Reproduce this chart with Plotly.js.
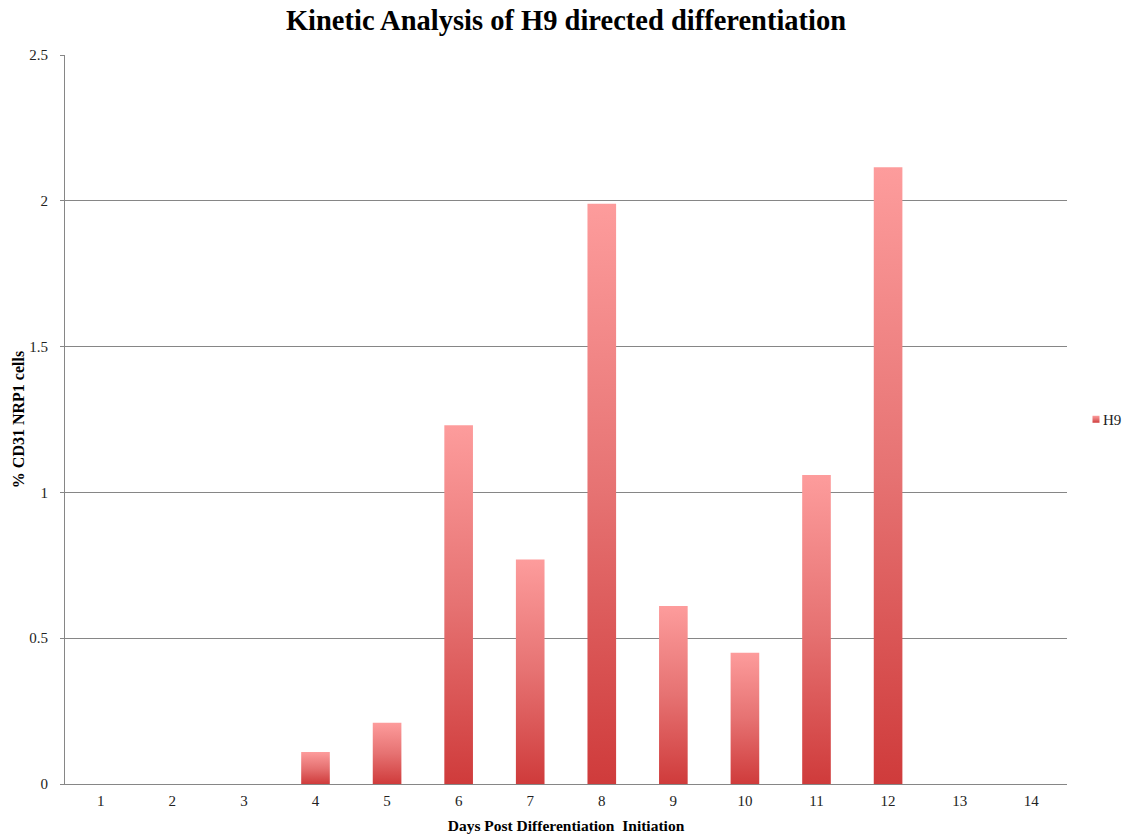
<!DOCTYPE html>
<html>
<head>
<meta charset="utf-8">
<script src="https://cdn.plot.ly/plotly-3.0.1.min.js"></script>
<style>html,body{margin:0;padding:0;background:#fff;}#chart{width:1132px;height:835px;}</style>
</head>
<body>
<div id="chart"></div>
<script>
var days = ['1','2','3','4','5','6','7','8','9','10','11','12','13','14'];
var h9Values = [0, 0, 0, 0.11, 0.21, 1.23, 0.77, 1.99, 0.61, 0.45, 1.06, 2.115, 0, 0];
var seriesName = 'H9';
var yTicks = [0, 0.5, 1, 1.5, 2, 2.5];
var yTickLabels = ['0', '0.5', '1', '1.5', '2', '2.5'];

var serif = '"Liberation Serif", "Times New Roman", serif';

var trace = {
  type: 'bar',
  x: days,
  y: h9Values,
  name: seriesName,
  marker: {color: '#e06a6a', line: {width: 0}},
  showlegend: true,
  hoverinfo: 'x+y'
};

var layout = {
  width: 1132,
  height: 835,
  margin: {l: 65, r: 65, t: 55, b: 51, autoexpand: false},
  paper_bgcolor: '#ffffff',
  plot_bgcolor: '#ffffff',
  bargap: 0.6,
  title: {
    text: '<b>Kinetic Analysis of H9 directed differentiation</b>',
    font: {family: serif, size: 28.5, color: '#000000'},
    x: 0.5, xanchor: 'center', y: 0.976, yanchor: 'middle'
  },
  xaxis: {
    type: 'category',
    showgrid: false,
    showline: true,
    linecolor: '#868686',
    linewidth: 1,
    ticks: '',
    ticklabelstandoff: 3,
    tickfont: {family: serif, size: 15, color: '#222222'},
    title: {text: '<b>Days Post Differentiation  Initiation</b>', font: {family: serif, size: 15.5, color: '#000000'}, standoff: 12}
  },
  yaxis: {
    range: [0, 2.5],
    tickvals: yTicks,
    ticktext: yTickLabels,
    showgrid: true,
    gridcolor: '#868686',
    gridwidth: 1,
    showline: true,
    linecolor: '#868686',
    linewidth: 1,
    ticks: 'outside',
    ticklen: 4,
    tickcolor: '#868686',
    zeroline: false,
    ticklabelstandoff: 9,
    tickfont: {family: serif, size: 15, color: '#222222'},
    title: {text: '<b>% CD31 NRP1 cells</b>', font: {family: serif, size: 16, color: '#000000'}, standoff: 0}
  },
  showlegend: true,
  legend: {
    x: 0.996, xanchor: 'left', y: 0.5, yanchor: 'middle',
    font: {family: serif, size: 15, color: '#222222'},
    bgcolor: 'rgba(0,0,0,0)',
    itemwidth: 30
  }
};

Plotly.newPlot('chart', [trace], layout, {displayModeBar: false, staticPlot: true}).then(function(gd){
  var svgNS = 'http://www.w3.org/2000/svg';
  var svg = gd.querySelector('svg.main-svg');
  var defs = svg.querySelector('defs');
  if (!defs) { defs = document.createElementNS(svgNS, 'defs'); svg.insertBefore(defs, svg.firstChild); }
  var grad = document.createElementNS(svgNS, 'linearGradient');
  grad.setAttribute('id', 'barGrad');
  grad.setAttribute('x1', '0'); grad.setAttribute('y1', '0');
  grad.setAttribute('x2', '0'); grad.setAttribute('y2', '1');
  var stops = [['0%', '#fd9c9c'], ['50%', '#e67272'], ['100%', '#cf3b3b']];
  stops.forEach(function(s){
    var st = document.createElementNS(svgNS, 'stop');
    st.setAttribute('offset', s[0]);
    st.setAttribute('stop-color', s[1]);
    grad.appendChild(st);
  });
  defs.appendChild(grad);
  gd.querySelectorAll('.barlayer .point path').forEach(function(p){
    p.style.fill = 'url(#barGrad)';
  });
  gd.querySelectorAll('.legend .legendpoints').forEach(function(g){
    var t = g.getAttribute('transform') || '';
    g.setAttribute('transform', 'translate(13,0) ' + t);
    g.querySelectorAll('path').forEach(function(p){
      p.setAttribute('d', 'M3.5,3.5H-3.5V-3.5H3.5Z');
      p.style.fill = 'url(#barGrad)';
    });
  });
});
</script>
</body>
</html>
